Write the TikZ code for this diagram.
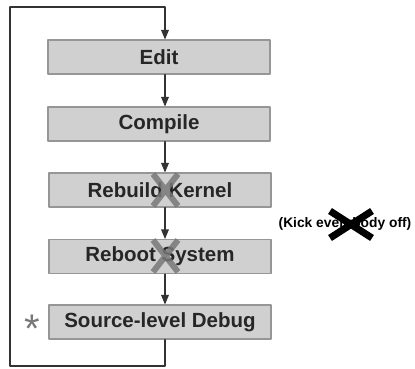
\documentclass[tikz,border=0pt]{standalone}
\usepackage{fontspec}
\setmainfont{Liberation Sans}
\usepackage{tikz}
\usetikzlibrary{arrows}
\usetikzlibrary{positioning}

\definecolor{boxfill}{RGB}{208,208,208}
\definecolor{boxline}{RGB}{150,150,150}
\definecolor{crossgrey}{RGB}{120,120,120}
\tikzset{stage/.style={draw=boxline,line width=1.2pt,fill=boxfill,minimum width=222pt,minimum height=34pt,inner sep=0pt,font=\bfseries\fontsize{20.5}{24}\selectfont,text=black!85}}
\tikzset{flow/.style={->,line width=1.2pt,draw=black!80}}

\begin{document}
\begin{tikzpicture}[line cap=round,line join=round,>=triangle 45,x=1pt,y=-1pt]
\useasboundingbox (0,0) rectangle (415,369);
\node [stage] (edit) at (159,57) {Edit};
\node [stage] (compile) at (159,124) {Compile};
\node [stage] (rebuild) at (160,190) {Rebuild Kernel};
\node [stage] (reboot) at (160,256.5) {Reboot System};
\node [stage] (debug) at (160,322) {Source-level Debug};
\node [text=crossgrey,font=\fontsize{40}{40}\selectfont] (star) at (32,329) {*};
\node [font=\bfseries\fontsize{13.8}{16}\selectfont] (kick) at (345,224) {(Kick everybody off)};
\coordinate (bl) at (10,366);
\coordinate (tl) at (10,7);
\draw [flow] (tl) -- (165,7) -- ([xshift=6]edit.north);
\draw [flow] ([xshift=6]edit.south) -- ([xshift=6]compile.north);
\draw [flow] ([xshift=6]compile.south) -- ([xshift=5]rebuild.north);
\draw [flow] ([xshift=5]rebuild.south) -- ([xshift=5]reboot.north);
\draw [flow] ([xshift=5]reboot.south) -- ([xshift=5]debug.north);
\draw [line width=1.2pt,draw=black!80] ([xshift=5]debug.south) |- (bl) -- (tl);
% crossed out steps
\draw [line width=6pt,crossgrey,opacity=.85,line cap=butt] (153,174) -- (178,206) (178,174) -- (153,206);
\draw [line width=6pt,crossgrey,opacity=.85,line cap=butt] (153,240) -- (178,272) (178,240) -- (153,272);
\draw [line width=7pt,black,line cap=butt] (330,211) -- (372,238) (372,211) -- (330,238);
\end{tikzpicture}
\end{document}
